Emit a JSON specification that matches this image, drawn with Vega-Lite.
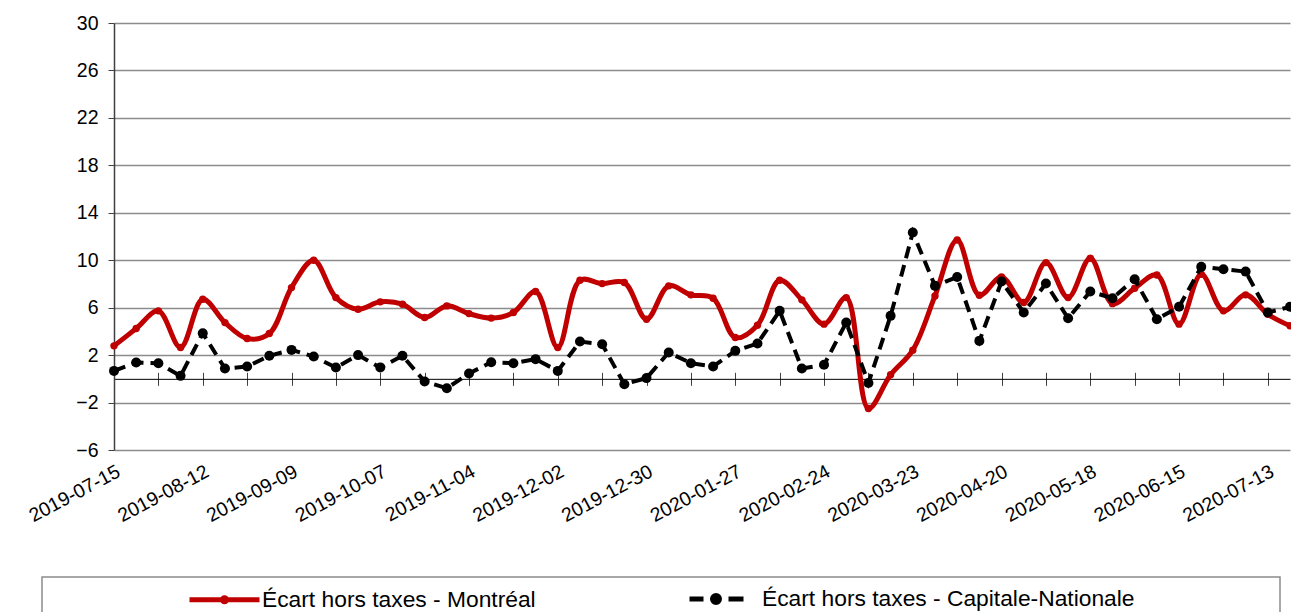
{
  "$schema": "https://vega.github.io/schema/vega-lite/v6.json",
  "width": 1176,
  "height": 427,
  "autosize": {"type": "none"},
  "padding": {"left": 114, "top": 23, "right": 1, "bottom": 162},
  "background": "white",
  "config": {"font": "Liberation Sans", "view": {"stroke": null}},
  "data": {
    "values": [
      {"d": "2019-07-15", "Écart hors taxes - Montréal": 2.78, "Écart hors taxes - Capitale-Nationale": 0.67},
      {"d": "2019-07-22", "Écart hors taxes - Montréal": 4.24, "Écart hors taxes - Capitale-Nationale": 1.37},
      {"d": "2019-07-29", "Écart hors taxes - Montréal": 5.73, "Écart hors taxes - Capitale-Nationale": 1.32},
      {"d": "2019-08-05", "Écart hors taxes - Montréal": 2.64, "Écart hors taxes - Capitale-Nationale": 0.25},
      {"d": "2019-08-12", "Écart hors taxes - Montréal": 6.71, "Écart hors taxes - Capitale-Nationale": 3.85},
      {"d": "2019-08-19", "Écart hors taxes - Montréal": 4.74, "Écart hors taxes - Capitale-Nationale": 0.87},
      {"d": "2019-08-26", "Écart hors taxes - Montréal": 3.40, "Écart hors taxes - Capitale-Nationale": 1.04},
      {"d": "2019-09-02", "Écart hors taxes - Montréal": 3.82, "Écart hors taxes - Capitale-Nationale": 1.94},
      {"d": "2019-09-09", "Écart hors taxes - Montréal": 7.69, "Écart hors taxes - Capitale-Nationale": 2.44},
      {"d": "2019-09-16", "Écart hors taxes - Montréal": 10.0, "Écart hors taxes - Capitale-Nationale": 1.88},
      {"d": "2019-09-23", "Écart hors taxes - Montréal": 6.85, "Écart hors taxes - Capitale-Nationale": 0.95},
      {"d": "2019-09-30", "Écart hors taxes - Montréal": 5.87, "Écart hors taxes - Capitale-Nationale": 2.00},
      {"d": "2019-10-07", "Écart hors taxes - Montréal": 6.49, "Écart hors taxes - Capitale-Nationale": 0.95},
      {"d": "2019-10-14", "Écart hors taxes - Montréal": 6.29, "Écart hors taxes - Capitale-Nationale": 1.94},
      {"d": "2019-10-21", "Écart hors taxes - Montréal": 5.17, "Écart hors taxes - Capitale-Nationale": -0.22},
      {"d": "2019-10-28", "Écart hors taxes - Montréal": 6.15, "Écart hors taxes - Capitale-Nationale": -0.79},
      {"d": "2019-11-04", "Écart hors taxes - Montréal": 5.50, "Écart hors taxes - Capitale-Nationale": 0.45},
      {"d": "2019-11-11", "Écart hors taxes - Montréal": 5.12, "Écart hors taxes - Capitale-Nationale": 1.40},
      {"d": "2019-11-18", "Écart hors taxes - Montréal": 5.59, "Écart hors taxes - Capitale-Nationale": 1.32},
      {"d": "2019-11-25", "Écart hors taxes - Montréal": 7.36, "Écart hors taxes - Capitale-Nationale": 1.66},
      {"d": "2019-12-02", "Écart hors taxes - Montréal": 2.64, "Écart hors taxes - Capitale-Nationale": 0.67},
      {"d": "2019-12-09", "Écart hors taxes - Montréal": 8.31, "Écart hors taxes - Capitale-Nationale": 3.14},
      {"d": "2019-12-16", "Écart hors taxes - Montréal": 8.03, "Écart hors taxes - Capitale-Nationale": 2.92},
      {"d": "2019-12-23", "Écart hors taxes - Montréal": 8.12, "Écart hors taxes - Capitale-Nationale": -0.45},
      {"d": "2019-12-30", "Écart hors taxes - Montréal": 5.03, "Écart hors taxes - Capitale-Nationale": 0.06},
      {"d": "2020-01-06", "Écart hors taxes - Montréal": 7.84, "Écart hors taxes - Capitale-Nationale": 2.22},
      {"d": "2020-01-13", "Écart hors taxes - Montréal": 7.08, "Écart hors taxes - Capitale-Nationale": 1.32},
      {"d": "2020-01-20", "Écart hors taxes - Montréal": 6.80, "Écart hors taxes - Capitale-Nationale": 1.04},
      {"d": "2020-01-27", "Écart hors taxes - Montréal": 3.48, "Écart hors taxes - Capitale-Nationale": 2.36},
      {"d": "2020-02-03", "Écart hors taxes - Montréal": 4.52, "Écart hors taxes - Capitale-Nationale": 2.98},
      {"d": "2020-02-10", "Écart hors taxes - Montréal": 8.31, "Écart hors taxes - Capitale-Nationale": 5.73},
      {"d": "2020-02-17", "Écart hors taxes - Montréal": 6.66, "Écart hors taxes - Capitale-Nationale": 0.87},
      {"d": "2020-02-24", "Écart hors taxes - Montréal": 4.61, "Écart hors taxes - Capitale-Nationale": 1.18},
      {"d": "2020-03-02", "Écart hors taxes - Montréal": 6.85, "Écart hors taxes - Capitale-Nationale": 4.74},
      {"d": "2020-03-09", "Écart hors taxes - Montréal": -2.50, "Écart hors taxes - Capitale-Nationale": -0.35},
      {"d": "2020-03-16", "Écart hors taxes - Montréal": 0.34, "Écart hors taxes - Capitale-Nationale": 5.31},
      {"d": "2020-03-23", "Écart hors taxes - Montréal": 2.42, "Écart hors taxes - Capitale-Nationale": 12.33},
      {"d": "2020-03-30", "Écart hors taxes - Montréal": 6.99, "Écart hors taxes - Capitale-Nationale": 7.84},
      {"d": "2020-04-06", "Écart hors taxes - Montréal": 11.70, "Écart hors taxes - Capitale-Nationale": 8.59},
      {"d": "2020-04-13", "Écart hors taxes - Montréal": 7.05, "Écart hors taxes - Capitale-Nationale": 3.20},
      {"d": "2020-04-20", "Écart hors taxes - Montréal": 8.59, "Écart hors taxes - Capitale-Nationale": 8.20},
      {"d": "2020-04-27", "Écart hors taxes - Montréal": 6.43, "Écart hors taxes - Capitale-Nationale": 5.59},
      {"d": "2020-05-04", "Écart hors taxes - Montréal": 9.80, "Écart hors taxes - Capitale-Nationale": 8.03},
      {"d": "2020-05-11", "Écart hors taxes - Montréal": 6.85, "Écart hors taxes - Capitale-Nationale": 5.11},
      {"d": "2020-05-18", "Écart hors taxes - Montréal": 10.17, "Écart hors taxes - Capitale-Nationale": 7.36},
      {"d": "2020-05-25", "Écart hors taxes - Montréal": 6.34, "Écart hors taxes - Capitale-Nationale": 6.80},
      {"d": "2020-06-01", "Écart hors taxes - Montréal": 7.64, "Écart hors taxes - Capitale-Nationale": 8.40},
      {"d": "2020-06-08", "Écart hors taxes - Montréal": 8.76, "Écart hors taxes - Capitale-Nationale": 5.03},
      {"d": "2020-06-15", "Écart hors taxes - Montréal": 4.61, "Écart hors taxes - Capitale-Nationale": 6.07},
      {"d": "2020-06-22", "Écart hors taxes - Montréal": 8.82, "Écart hors taxes - Capitale-Nationale": 9.44},
      {"d": "2020-06-29", "Écart hors taxes - Montréal": 5.73, "Écart hors taxes - Capitale-Nationale": 9.24},
      {"d": "2020-07-06", "Écart hors taxes - Montréal": 7.08, "Écart hors taxes - Capitale-Nationale": 9.04},
      {"d": "2020-07-13", "Écart hors taxes - Montréal": 5.45, "Écart hors taxes - Capitale-Nationale": 5.59},
      {"d": "2020-07-20", "Écart hors taxes - Montréal": 4.47, "Écart hors taxes - Capitale-Nationale": 6.07}
    ]
  },
  "transform": [
    {"fold": ["Écart hors taxes - Montréal", "Écart hors taxes - Capitale-Nationale"], "as": ["serie", "valeur"]}
  ],
  "encoding": {
    "y": {
      "field": "valeur",
      "type": "quantitative",
      "scale": {"domain": [-6, 30], "nice": false, "zero": false},
      "axis": {
        "values": [-6, -2, 2, 6, 10, 14, 18, 22, 26, 30],
        "title": null,
        "grid": true,
        "gridColor": "#8c8c8c",
        "gridWidth": 1.5,
        "domainColor": "#404040",
        "domainWidth": 1.5,
        "tickColor": "#404040",
        "tickSize": 6,
        "labelFontSize": 19.5,
        "labelPadding": 10,
        "labelColor": "black"
      }
    }
  },
  "layer": [
    {
      "transform": [{"filter": {"field": "serie", "equal": "Écart hors taxes - Montréal"}}],
      "mark": {"type": "line", "interpolate": "catmull-rom", "strokeWidth": 5, "strokeCap": "round", "strokeJoin": "round"},
      "encoding": {
        "x": {
          "field": "d", "type": "ordinal", "sort": null,
          "scale": {"type": "point", "padding": 0},
          "axis": {
            "orient": "bottom",
            "values": ["2019-07-15", "2019-08-12", "2019-09-09", "2019-10-07", "2019-11-04", "2019-12-02", "2019-12-30", "2020-01-27", "2020-02-24", "2020-03-23", "2020-04-20", "2020-05-18", "2020-06-15", "2020-07-13"],
            "ticks": false, "domain": false, "grid": false, "title": null,
            "labelAngle": -28, "labelAlign": "right", "labelBaseline": "top",
            "labelFontSize": 19.5, "labelPadding": 12, "labelColor": "black",
            "labelOverlap": false, "labelBound": false, "labelFlush": false
          }
        },
        "color": {
          "field": "serie", "type": "nominal",
          "scale": {"domain": ["Écart hors taxes - Montréal", "Écart hors taxes - Capitale-Nationale"], "range": ["#C00000", "#000000"]},
          "legend": {
            "orient": "none", "legendX": -72, "legendY": 554, "direction": "horizontal",
            "title": "\u00a0", "titleOrient": "left", "titleFontSize": 22, "titlePadding": 136,
            "padding": 9, "strokeColor": "#8c8c8c",
            "labelFontSize": 22.8, "labelColor": "black", "labelOffset": 50, "labelLimit": 2000,
            "columnPadding": 143, "symbolSize": 400, "symbolStrokeWidth": 5,
            "encode": {
              "symbols": {
                "update": {
                  "shape": {"signal": "indexof(datum.value, 'Montréal') >= 0 ? 'M-1,0L6,0M2.7,0A0.2,0.2 0 1 1 2.3,0A0.2,0.2 0 1 1 2.7,0Z' : 'M56.1,0M-1,0L0.4,0M2.9,0L4.4,0M2,0A0.35,0.35 0 1 1 1.3,0A0.35,0.35 0 1 1 2,0Z'"},
                  "fill": {"signal": "indexof(datum.value, 'Montréal') >= 0 ? '#C00000' : '#000000'"},
                  "stroke": {"signal": "indexof(datum.value, 'Montréal') >= 0 ? '#C00000' : '#000000'"},
                  "strokeWidth": {"value": 5},
                  "strokeDash": {"value": []},
                  "size": {"value": 400}
                }
              },
              "legend": {"update": {"strokeWidth": {"value": 1.5}}}
            }
          }
        }
      }
    },
    {
      "transform": [{"filter": {"field": "serie", "equal": "Écart hors taxes - Montréal"}}],
      "mark": {"type": "circle", "color": "#C00000", "size": 55, "opacity": 1},
      "encoding": {
        "x": {
          "field": "d", "type": "ordinal", "sort": null,
          "scale": {"type": "point", "padding": 0},
          "axis": {
            "orient": "bottom", "offset": -77.67,
            "values": ["2019-07-15", "2019-07-29", "2019-08-12", "2019-08-26", "2019-09-09", "2019-09-23", "2019-10-07", "2019-10-21", "2019-11-04", "2019-11-18", "2019-12-02", "2019-12-16", "2019-12-30", "2020-01-13", "2020-01-27", "2020-02-10", "2020-02-24", "2020-03-09", "2020-03-23", "2020-04-06", "2020-04-20", "2020-05-04", "2020-05-18", "2020-06-01", "2020-06-15", "2020-06-29", "2020-07-13"],
            "labels": false, "domain": false, "grid": false, "ticks": true,
            "tickSize": 13, "tickColor": "#404040", "tickWidth": 1, "title": null
          }
        }
      }
    },
    {
      "transform": [{"filter": {"field": "serie", "equal": "Écart hors taxes - Capitale-Nationale"}}],
      "mark": {"type": "line", "color": "#000000", "strokeWidth": 4, "strokeDash": [12, 7]},
      "encoding": {
        "x": {
          "field": "d", "type": "ordinal", "sort": null,
          "scale": {"type": "point", "padding": 0},
          "axis": {
            "orient": "bottom", "offset": -71.17,
            "labels": false, "ticks": false, "grid": false, "domain": true,
            "domainColor": "#000000", "domainWidth": 1, "title": null
          }
        }
      }
    },
    {
      "transform": [{"filter": {"field": "serie", "equal": "Écart hors taxes - Capitale-Nationale"}}],
      "mark": {"type": "circle", "color": "#000000", "size": 100, "opacity": 1},
      "encoding": {
        "x": {
          "field": "d", "type": "ordinal", "sort": null,
          "scale": {"type": "point", "padding": 0},
          "axis": null
        }
      }
    }
  ],
  "resolve": {"axis": {"x": "independent"}}
}
